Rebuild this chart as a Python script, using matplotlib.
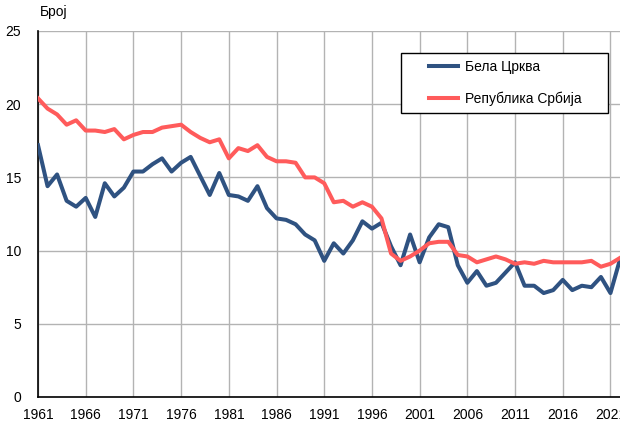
import matplotlib
matplotlib.use("Agg")
import matplotlib.pyplot as plt
from matplotlib.patches import Rectangle

years = list(range(1961, 2023))
bela_crkva = [17.2, 14.4, 15.2, 13.4, 13.0, 13.6, 12.3, 14.6, 13.7, 14.3,
              15.4, 15.4, 15.9, 16.3, 15.4, 16.0, 16.4, 15.1, 13.8, 15.3,
              13.8, 13.7, 13.4, 14.4, 12.9, 12.2, 12.1, 11.8, 11.1, 10.7,
              9.3, 10.5, 9.8, 10.7, 12.0, 11.5, 11.9, 10.3, 9.0, 11.1,
              9.2, 10.9, 11.8, 11.6, 9.0, 7.8, 8.6, 7.6, 7.8, 8.5,
              9.2, 7.6, 7.6, 7.1, 7.3, 8.0, 7.3, 7.6, 7.5, 8.2,
              7.1, 9.4]
srbija = [20.4, 19.7, 19.3, 18.6, 18.9, 18.2, 18.2, 18.1, 18.3, 17.6,
          17.9, 18.1, 18.1, 18.4, 18.5, 18.6, 18.1, 17.7, 17.4, 17.6,
          16.3, 17.0, 16.8, 17.2, 16.4, 16.1, 16.1, 16.0, 15.0, 15.0,
          14.6, 13.3, 13.4, 13.0, 13.3, 13.0, 12.2, 9.8, 9.3, 9.6,
          10.0, 10.5, 10.6, 10.6, 9.7, 9.6, 9.2, 9.4, 9.6, 9.4,
          9.1, 9.2, 9.1, 9.3, 9.2, 9.2, 9.2, 9.2, 9.3, 8.9,
          9.1, 9.5]
xticks = list(range(1961, 2023, 5))
yticks = [0, 5, 10, 15, 20, 25]
labels = ["Бела Црква", "Република Србија"]

plt.rcParams['font.family'] = ['Liberation Sans', 'DejaVu Sans']

W, H = 620, 421
fig = plt.figure(figsize=(W / 100, H / 100), dpi=100)
ax = fig.add_axes([38 / W, 1 - 397 / H, 1 - 38 / W, (397 - 31) / H])

ax.plot(years, bela_crkva, color="#2f5281", lw=2.9, label=labels[0], zorder=3)
ax.plot(years, srbija, color="#ff5b5b", lw=2.9, label=labels[1], zorder=3)

ax.set_xlim(1961, 2022)
ax.set_ylim(0, 25)
ax.set_xticks(xticks)
ax.set_yticks(yticks)
ax.grid(True, color="#b3b3b3", lw=1)
ax.set_axisbelow(True)
for s in ["top", "right"]:
    ax.spines[s].set_visible(False)
for s in ["left", "bottom"]:
    ax.spines[s].set_color("black")
    ax.spines[s].set_linewidth(1.2)
ax.tick_params(axis="both", length=0, labelsize=10, colors="black")
ax.tick_params(axis="x", pad=8)
ax.tick_params(axis="y", pad=12)

leg = ax.legend(loc="upper left", bbox_to_anchor=(429 / W, 1 - 60 / H),
                bbox_transform=fig.transFigure,
                frameon=False, fontsize=10,
                handlelength=2.1, labelspacing=1.25, borderpad=0,
                borderaxespad=0, handletextpad=0.5)
leg.set_zorder(5)
ax.add_patch(Rectangle((401 / W, 1 - 113 / H), (608 - 401) / W, (113 - 53) / H,
                       transform=fig.transFigure, facecolor="white",
                       edgecolor="black", lw=1, zorder=4, clip_on=False))

fig.text(40 / W, 1 - 12 / H, "Број", fontsize=10, va="center", ha="left")

fig.savefig("out.png", dpi=100)
